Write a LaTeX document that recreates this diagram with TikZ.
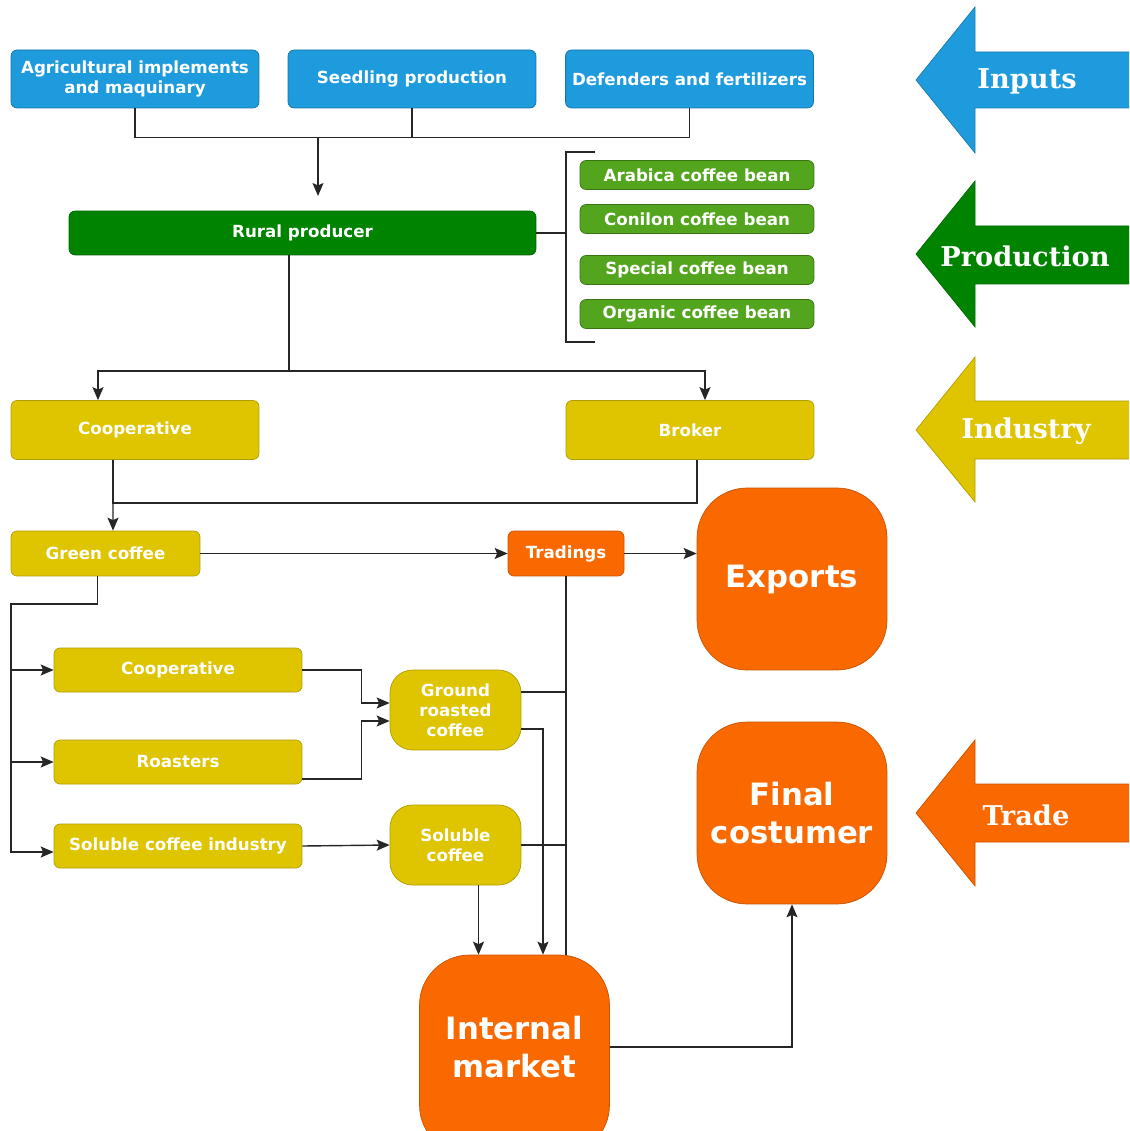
\documentclass[tikz,border=0pt]{standalone}
\usepackage{fontspec}
\setsansfont{DejaVu Sans}
\newfontfamily\headfont{DejaVu Serif}
\usetikzlibrary{arrows.meta}

\definecolor{inputblue}{RGB}{30,155,220}
\definecolor{prodgreen}{RGB}{0,132,0}
\definecolor{beangreen}{RGB}{82,165,28}
\definecolor{indyellow}{RGB}{223,196,0}
\definecolor{tradeorange}{RGB}{250,104,0}

\tikzset{
    box/.style={rectangle, rounded corners=0.12cm, text=white, align=center, inner sep=0pt, line width=0.4pt,
        font=\sffamily\bfseries\fontsize{9.5}{11.5}\selectfont},
    inputbox/.style={box, fill=inputblue, draw=inputblue!75!black, minimum width=4.96cm, minimum height=1.16cm},
    ruralbox/.style={box, fill=prodgreen, draw=prodgreen!75!black, minimum width=9.34cm, minimum height=0.88cm},
    beanbox/.style={box, fill=beangreen, draw=beangreen!70!black, minimum width=4.68cm, minimum height=0.58cm},
    industrybox/.style={box, fill=indyellow, draw=indyellow!80!black, minimum width=4.96cm, minimum height=0.88cm},
    tradebox/.style={box, fill=tradeorange, draw=tradeorange!80!black, minimum width=2.32cm, minimum height=0.9cm},
    productbox/.style={box, fill=indyellow, draw=indyellow!80!black, rounded corners=0.45cm,
        minimum width=2.62cm, minimum height=1.6cm, font=\sffamily\bfseries\fontsize{9.5}{11.3}\selectfont},
    bigbox/.style={box, fill=tradeorange, draw=tradeorange!80!black, rounded corners=1cm,
        minimum width=3.8cm, minimum height=3.64cm, font=\sffamily\bfseries\fontsize{17.5}{21.5}\selectfont},
    headlabel/.style={text=white, font=\headfont\bfseries\fontsize{15.5}{18}\selectfont},
    link/.style={line width=0.8pt, black!85},
    flow/.style={link, -{Stealth[length=0.26cm, width=0.22cm, inset=0.05cm]}}
}

\begin{document}
\begin{tikzpicture}[x=0.02cm, y=-0.02cm]
    \useasboundingbox (0,0) rectangle (1129,1131);
    \clip (0,0) rectangle (1129,1131);

    % inputs
    \node[inputbox] (agri) at (135,79) {Agricultural implements\\and maquinary};
    \node[inputbox] (seed) at (412,79) {Seedling production};
    \node[inputbox] (fert) at (689.5,79) {Defenders and fertilizers};

    % production
    \node[ruralbox] (rural) at (302.5,233) {Rural producer};
    \node[beanbox] (arabica) at (697,175) {Arabica coffee bean};
    \node[beanbox] (conilon) at (697,219) {Conilon coffee bean};
    \node[beanbox] (special) at (697,270) {Special coffee bean};
    \node[beanbox] (organic) at (697,314) {Organic coffee bean};

    % industry
    \node[industrybox, minimum height=1.18cm] (coop) at (135,430) {Cooperative};
    \node[industrybox, minimum height=1.18cm] (broker) at (690,430) {Broker};
    \node[industrybox, minimum width=3.78cm, minimum height=0.9cm] (green) at (105.5,553.5) {Green coffee};
    \node[industrybox] (coop2) at (178,670) {Cooperative};
    \node[industrybox] (roasters) at (178,762) {Roasters};
    \node[industrybox] (solind) at (178,846) {Soluble coffee industry};
    \node[productbox] (ground) at (455.5,710) {Ground\\roasted\\coffee};
    \node[productbox] (soluble) at (455.5,845) {Soluble\\coffee};

    % trade
    \node[tradebox] (tradings) at (566,553.5) {Tradings};
    \node[bigbox] (exports) at (792,579) {Exports};
    \node[bigbox] (final) at (792,813) {Final\\costumer};
    \node[bigbox, minimum height=4cm, text depth=0.32cm] (market) at (514.5,1055) {Internal\\market};

    % stage arrows
    \fill[inputblue, draw=inputblue!80!black] (1140,52) -- (975,52) -- (975,7) -- (916,80) -- (975,153) -- (975,108) -- (1140,108) -- cycle;
    \fill[prodgreen, draw=prodgreen!80!black] (1140,226) -- (975,226) -- (975,181) -- (916,254) -- (975,327) -- (975,284) -- (1140,284) -- cycle;
    \fill[indyellow, draw=indyellow!80!black] (1140,401) -- (975,401) -- (975,357) -- (916,430) -- (975,502) -- (975,459) -- (1140,459) -- cycle;
    \fill[tradeorange, draw=tradeorange!80!black] (1140,784) -- (975,784) -- (975,740) -- (916,813) -- (975,886) -- (975,842) -- (1140,842) -- cycle;
    \node[headlabel] (inputs) at (1027,81) {Inputs};
    \node[headlabel] (production) at (1025,256) {Production};
    \node[headlabel] (industry) at (1026,431) {Industry};
    \node[headlabel] (trade) at (1026,815) {Trade};

    % inputs to rural producer
    \coordinate (injoin) at (318,137);
    \coordinate (ruraltop) at (318,196);
    \draw[link] (agri.south) -- ++(0,29) -| (fert.south);
    \draw[link] (seed.south) -- ++(0,29);
    \draw[flow] (injoin) -- (ruraltop);

    % bracket of beans
    \coordinate (brtop) at (595,152);
    \coordinate (brbot) at (595,342);
    \draw[link] (rural.east) -- ++(30,0);
    \draw[link] (brtop) -- ++(-29,0) -- ++(0,190) -- (brbot);

    % rural producer to cooperative and broker
    \coordinate (split) at (289,371);
    \draw[link] (rural.south -| split) -- (split);
    \draw[flow] (split) -| ([xshift=-0.74cm]coop.north);
    \draw[flow] (split) -| ([xshift=0.3cm]broker.north);

    % to green coffee
    \draw[link] ([xshift=-0.44cm]coop.south) -- ++(0,43) -| ([xshift=0.14cm]broker.south);
    \draw[flow] ([xshift=-0.44cm]coop.south) -- ([xshift=0.15cm]green.north);
    \draw[flow] (green.east) -- (tradings.west);
    \draw[flow] (tradings.east) -- (exports.west |- tradings.east);

    % green coffee to processors
    \coordinate (railtop) at (11,604);
    \draw[flow] ([xshift=-0.16cm]green.south) |- (railtop) |- ([yshift=-0.12cm]solind.west);
    \draw[flow] (railtop |- coop2.west) -- (coop2.west);
    \draw[flow] (railtop |- roasters.west) -- (roasters.west);
    \draw[flow] (coop2.east) -- ++(59,0) |- ([yshift=0.14cm]ground.west);
    \draw[flow] ([yshift=-0.34cm]roasters.east) -- ++(59,0) |- ([yshift=-0.22cm]ground.west);
    \draw[flow] (solind.east) -- (soluble.west);

    % to internal market
    \draw[link] (tradings.south) -- (tradings.south |- market.north);
    \draw[link] ([yshift=0.36cm]ground.east) -- ([yshift=0.36cm]ground.east -| tradings.south);
    \draw[flow] ([yshift=-0.38cm]ground.east) -| ([xshift=0.57cm]market.north);
    \draw[link] (soluble.east) -- (soluble.east -| tradings.south);
    \draw[flow] ([xshift=0.46cm]soluble.south) -- ([xshift=0.46cm]soluble.south |- market.north);
    \draw[flow] ([yshift=0.16cm]market.east) -| (final.south);
\end{tikzpicture}
\end{document}
